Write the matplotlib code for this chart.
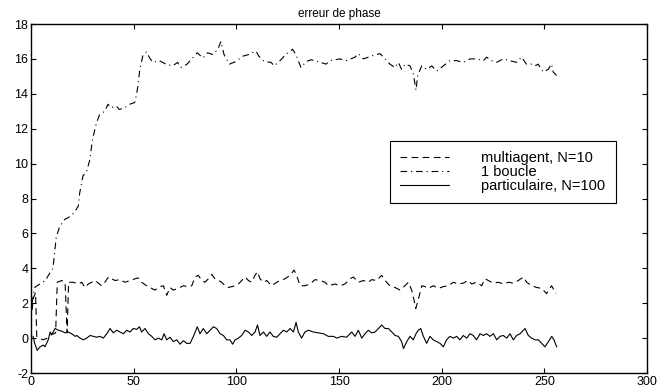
import matplotlib
matplotlib.use('Agg')
import matplotlib.pyplot as plt

# values
boucle_x = [0.5, 1.8, 3, 5, 7, 9, 10.7, 11.5, 12.3, 14, 16.4, 19.6, 21, 23, 23.7, 25.3, 27, 28.6,
            30, 31.8, 33.4, 35.9, 37.5, 39, 41.5, 43, 45.6, 48, 50.5, 51.3, 52, 53, 54.5, 56.2,
            57.8, 59.3, 62.5, 65.7, 69, 71.4, 73, 76, 78.7, 81, 83.7, 86, 88.5, 91, 92.5, 94,
            96.6, 99.8, 103, 106, 109.5, 111, 113.6, 116.9, 118.5, 121.7, 124, 127.4, 129, 131.5,
            134, 136.4, 139.6, 143.7, 145.6, 150.5, 153.7, 157.8, 159.4, 161.9, 164.3, 166.7, 170,
            171.6, 174.8, 177.3, 178.9, 180.5, 182.2, 184.6, 186.2, 187.5, 188.3, 190.3, 192.7,
            195.2, 197.6, 200.8, 204, 207.3, 210.5, 213.8, 217, 220.3, 221.9, 224.3, 226.7, 230,
            233.2, 236.5, 238.1, 238.9, 241.3, 243.8, 245.4, 247, 249.4, 251.9, 253.5, 254.3, 256]
boucle_y = [2.0, 2.9, 3.0, 3.15, 3.3, 3.7, 4.0, 4.9, 5.8, 6.4, 6.8, 7.0, 7.2, 7.55, 8.3, 9.3, 9.5, 10.2,
            11.4, 12.3, 12.8, 13.0, 13.4, 13.2, 13.3, 13.1, 13.2, 13.4, 13.5, 13.9, 14.4, 15.4, 16.2, 16.4,
            16.05, 15.8, 15.9, 15.7, 15.6, 15.8, 15.5, 15.7, 16.05, 16.35, 16.05, 16.35, 16.25, 16.55, 17.0, 16.25,
            15.7, 15.85, 16.15, 16.25, 16.45, 16.15, 15.85, 15.8, 15.6, 15.95, 16.25, 16.55, 16.25, 15.5,
            15.85, 15.95, 15.85, 15.7, 15.9, 16.0, 15.9, 16.1, 16.3, 16.0, 16.1, 16.2, 16.3,
            16.1, 15.7, 15.5, 15.8, 15.4, 15.7, 15.6, 15.15, 14.2, 15.05, 15.6, 15.4,
            15.6, 15.3, 15.6, 15.9, 15.9, 15.8, 16.0, 16.0, 15.9, 16.1, 15.9, 15.8, 16.0,
            15.9, 15.8, 16.0, 16.1, 15.7, 15.7, 15.6, 15.7, 15.25, 15.4, 15.7, 15.25, 15.05]

multi_x = [0.5, 1.2, 2.2, 2.8, 4, 6, 8, 10, 12, 12.8, 14.9, 16.6, 17.6, 18.3, 20.6, 23, 24.7, 26.3,
           27.9, 29.5, 31.2, 32.8, 34.4, 36, 37.7, 39.3, 40.9, 43.3, 45.8, 48.2, 50.7, 52.3, 53.9,
           56.3, 58.8, 60.4, 62.8, 64.5, 66.1, 67.7, 69.3, 71.8, 74.2, 76.7, 78.3, 79.9, 81.5, 83.1,
           84.7, 86.4, 88, 89.6, 91.3, 92.9, 94.5, 96.1, 97.7, 99.4, 101, 102.6, 104.3, 105.9, 107.5,
           109.1, 110.3, 111.5, 113.2, 114.8, 117.2, 119.7, 121.3, 123.7, 126.2, 128.1, 129.4, 131,
           133.4, 135.9, 138.3, 140.7, 143.2, 144.8, 148.1, 150.5, 152.9, 155.4, 157, 159.4, 161.9,
           164.3, 165.9, 168.3, 170.8, 172.4, 174.8, 177.3, 179.7, 182.1, 183.8, 185.4, 186.5, 187.4,
           188.6, 190.3, 191.9, 193.5, 196, 198.4, 200.8, 203.2, 205.7, 208.1, 210.5, 213, 214.6,
           217, 219.5, 221.1, 222.7, 225.2, 227.6, 230, 232.5, 234.9, 237.3, 239.8, 241.4, 243.8,
           246.3, 248.7, 251.1, 253.5, 255.7]
multi_y = [1.6, 2.3, 2.6, 0.1, 0.0, -0.1, 0.0, 0.2, 0.3, 3.2, 3.3, 3.2, 0.3, 3.2, 3.2, 3.1, 3.2, 2.9,
           3.1, 3.2, 3.3, 3.15, 3.0, 3.2, 3.5, 3.4, 3.3, 3.35, 3.2, 3.3, 3.4, 3.45, 3.2,
           3.0, 2.85, 2.75, 2.95, 3.0, 2.45, 2.9, 2.75, 2.85, 3.0, 2.95, 3.0, 3.5, 3.6, 3.3,
           3.2, 3.4, 3.65, 3.4, 3.3, 3.2, 3.0, 2.9, 2.95, 3.0, 3.1, 3.3, 3.5, 3.3, 3.2,
           3.6, 3.8, 3.4, 3.2, 3.3, 3.0, 3.2, 3.3, 3.4, 3.6, 3.9, 3.6, 3.0,
           3.0, 3.1, 3.35, 3.3, 3.2, 3.0, 3.1, 3.0, 3.1, 3.4, 3.5, 3.2, 3.3,
           3.2, 3.35, 3.3, 3.6, 3.3, 3.0, 2.9, 2.75, 3.0, 3.2, 2.75, 2.2, 1.7,
           2.2, 3.0, 2.95, 2.85, 3.0, 2.85, 2.95, 3.0, 3.2, 3.1, 3.15, 3.3, 3.1,
           3.2, 3.0, 3.4, 3.3, 3.15, 3.2, 3.1, 3.2, 3.15, 3.3, 3.5, 3.2, 3.0,
           2.9, 2.85, 2.55, 3.0, 2.55]

part_x = [1, 1.8, 3, 4.4, 6, 6.8, 8.4, 9.3, 10.1, 11.7, 13.3, 14.9, 16.6, 18.2, 19.8, 21.5, 22.3,
          23.9, 25.5, 27.1, 28.8, 30.4, 32, 33.6, 35.2, 36.9, 38.5, 40.1, 41.7, 43.3, 45, 46.6, 48.2,
          49.8, 51.5, 52.8, 53.9, 55.5, 57.2, 58.8, 60.4, 62, 63.7, 64.8, 66.1, 67.7, 69.3, 71, 72.6,
          74.2, 75.8, 77.5, 79.1, 81, 82.3, 83.9, 85.6, 87.2, 88.8, 90.4, 92.1, 93.7, 95.3, 96.9,
          98.2, 99.4, 101, 102.6, 104.3, 105.9, 107.5, 109.1, 110.3, 111.5, 113.2, 114.8, 116.4,
          118, 119.7, 121.3, 122.9, 124.5, 126.2, 127.8, 129.1, 130.2, 131.8, 133.4, 135.1, 137.5,
          139.9, 142.4, 144.8, 147.3, 148.9, 151.3, 153.7, 155.4, 156.2, 157.8, 159.4, 161.1,
          162.7, 164.3, 165.9, 167.6, 169.2, 170.8, 172.4, 174.1, 175.7, 177.3, 178.9, 180.5,
          181.4, 183, 184.6, 186.2, 187.5, 188.6, 189.8, 191.1, 192.7, 194.3, 195.9, 197.6, 199.2,
          200.8, 202.4, 204, 205.7, 207.3, 208.9, 210.5, 212.2, 213.8, 215.4, 217, 218.7, 220.3,
          221.9, 223.5, 225.2, 226.8, 228.4, 230, 231.7, 233.3, 234.9, 236.5, 238.2, 239.8, 240.6,
          242.2, 243.8, 245.5, 247.1, 248.7, 250.3, 252, 253.6, 254.7, 256]
part_y = [0.1, -0.3, -0.7, -0.5, -0.4, -0.5, -0.1, 0.35, 0.2, 0.55, 0.45, 0.4, 0.3, 0.35, 0.25, 0.1, 0.15,
          0.0, -0.1, 0.0, 0.15, 0.1, 0.05, 0.1, 0.0, 0.25, 0.55, 0.3, 0.45, 0.35, 0.25, 0.45, 0.35,
          0.55, 0.5, 0.65, 0.35, 0.55, 0.25, 0.1, -0.1, 0.0, -0.1, 0.25, -0.1, 0.05, -0.2, -0.1, -0.35,
          -0.15, -0.3, -0.3, 0.1, 0.65, 0.25, 0.55, 0.25, 0.45, 0.65, 0.55, 0.25, 0.15, -0.1, -0.1,
          -0.35, -0.1, 0.0, 0.15, 0.45, 0.35, 0.15, 0.35, 0.75, 0.15, 0.35, 0.1, 0.35,
          0.1, 0.05, 0.25, 0.45, 0.35, 0.55, 0.35, 0.9, 0.35, 0.0, 0.35, 0.45, 0.35,
          0.3, 0.25, 0.1, 0.1, 0.0, 0.1, 0.05, 0.25, 0.35, 0.1, 0.45, 0.0,
          0.25, 0.45, 0.3, 0.35, 0.55, 0.75, 0.55, 0.55, 0.35, 0.15, 0.1, -0.2,
          -0.6, -0.2, 0.1, -0.1, 0.25, 0.45, 0.55, 0.1, -0.3, 0.1, -0.1, -0.2, -0.3,
          -0.5, -0.1, 0.1, 0.0, 0.1, -0.1, 0.15, 0.0, 0.25, 0.15, -0.1, 0.25, 0.15,
          0.25, 0.1, 0.25, -0.1, 0.1, 0.15, 0.0, 0.25, -0.1, 0.15, 0.25, 0.45, 0.55,
          0.15, 0.0, -0.1, -0.1, -0.3, -0.5, -0.2, 0.1, -0.1, -0.5]

plt.rcParams['font.family'] = ['Liberation Sans', 'DejaVu Sans']
plt.rcParams['axes.unicode_minus'] = False

fig = plt.figure(figsize=(6.6, 3.87), dpi=100)
ax = fig.add_axes([31 / 660, 14 / 387, 616 / 660, 349 / 387])

ax.plot(multi_x, multi_y, color='black', lw=0.8, linestyle=(0, (6, 4)), label='multiagent, N=10')
ax.plot(boucle_x, boucle_y, color='black', lw=0.8, linestyle=(0, (6, 3.5, 1, 3.5)), label='1 boucle')
ax.plot(part_x, part_y, color='black', lw=0.8, linestyle='-', label='particulaire, N=100')

ax.set_xlim(0, 300)
ax.set_ylim(-2, 18)
ax.set_xticks(range(0, 301, 50))
ax.set_yticks(range(-2, 19, 2))
ax.tick_params(direction='in', top=True, right=True, length=3.5, width=0.8,
               labelsize=9, pad=2)
for s in ax.spines.values():
    s.set_linewidth(1.0)

ax.set_title('erreur de phase', fontsize=8.5, pad=5)

leg = ax.legend(loc='upper left', bbox_to_anchor=(0.583, 0.665), fontsize=10.5,
                frameon=True, fancybox=False, edgecolor='black', framealpha=1,
                handlelength=3.35, handletextpad=2.2, borderpad=0.7, labelspacing=0.0,
                borderaxespad=0)
leg.get_frame().set_linewidth(0.8)

fig.savefig('out.png', dpi=100)
